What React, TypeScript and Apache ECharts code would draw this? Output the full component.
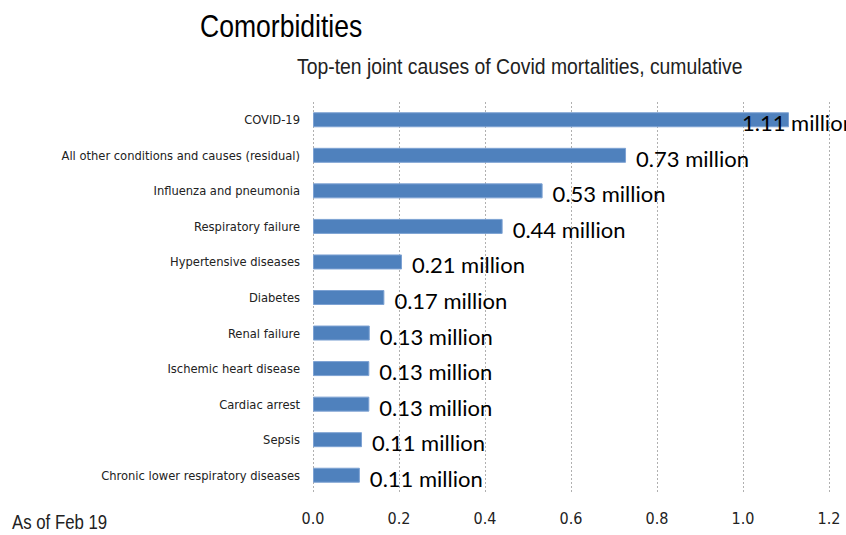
import React, { useEffect, useRef } from "react";
import * as echarts from "echarts";

const categories = [
  "COVID-19",
  "All other conditions and causes (residual)",
  "Influenza and pneumonia",
  "Respiratory failure",
  "Hypertensive diseases",
  "Diabetes",
  "Renal failure",
  "Ischemic heart disease",
  "Cardiac arrest",
  "Sepsis",
  "Chronic lower respiratory diseases",
];
const values = [1.107, 0.728, 0.534, 0.441, 0.207, 0.166, 0.132, 0.131, 0.131, 0.114, 0.109];
const xTicks = { min: 0, max: 1.2, interval: 0.2 };

const NARROW = "'DejaVu Sans Condensed', 'Liberation Sans Narrow', sans-serif";
const ARIAL = "'Liberation Sans', Arial, sans-serif";

export default function App() {
  const ref = useRef<HTMLDivElement>(null);
  useEffect(() => {
    if (!ref.current) return;
    const chart = echarts.init(ref.current, undefined, { renderer: "svg" });
    chart.setOption({
      animation: false,
      backgroundColor: "#ffffff",
      graphic: [
        {
          type: "text",
          x: 200,
          y: 10,
          scaleX: 0.83,
          style: { text: "Comorbidities", fontFamily: ARIAL, fontSize: 32, fill: "#000", textVerticalAlign: "top" },
        },
        {
          type: "text",
          x: 297,
          y: 55,
          scaleX: 0.88,
          style: {
            text: "Top-ten joint causes of Covid mortalities, cumulative",
            fontFamily: ARIAL,
            fontSize: 22,
            fill: "#222",
            textVerticalAlign: "top",
          },
        },
        {
          type: "text",
          x: 12,
          y: 511,
          scaleX: 0.8,
          style: { text: "As of Feb 19", fontFamily: ARIAL, fontSize: 21, fill: "#222", textVerticalAlign: "top" },
        },
      ],
      grid: { left: 313, right: 17, top: 102, bottom: 42, containLabel: false },
      xAxis: {
        type: "value",
        min: xTicks.min,
        max: xTicks.max,
        interval: xTicks.interval,
        axisLine: { show: false },
        axisTick: { show: false },
        splitLine: { show: true, lineStyle: { color: "#b0b0b0", type: [2, 2], width: 1 } },
        axisLabel: {
          margin: 17,
          formatter: (v: number) => v.toFixed(1),
          fontFamily: NARROW,
          fontSize: 16,
          color: "#222",
        },
      },
      yAxis: {
        type: "category",
        inverse: true,
        data: categories,
        axisLine: { show: false },
        axisTick: { show: false },
        axisLabel: { margin: 13, fontFamily: NARROW, fontSize: 12.8, color: "#222" },
      },
      series: [
        {
          type: "bar",
          barWidth: 15,
          data: values.map((v, i) =>
            i === 0
              ? { value: v, label: { offset: [-57, 3] } }
              : { value: v }
          ),
          itemStyle: { color: "#4F81BD", borderColor: "#7da2d3", borderWidth: 1 },
          label: {
            show: true,
            position: "right",
            distance: 10,
            offset: [0, 3],
            formatter: (p: any) => (Math.round(p.value * 100) / 100).toFixed(2) + " million",
            fontFamily: "Lato, 'Open Sans', sans-serif",
            fontSize: 22,
            color: "#000",
          },
        },
      ],
    });
    return () => chart.dispose();
  }, []);
  return <div ref={ref} style={{ width: 846, height: 535, position: "absolute", left: 0, top: 0 }} />;
}
